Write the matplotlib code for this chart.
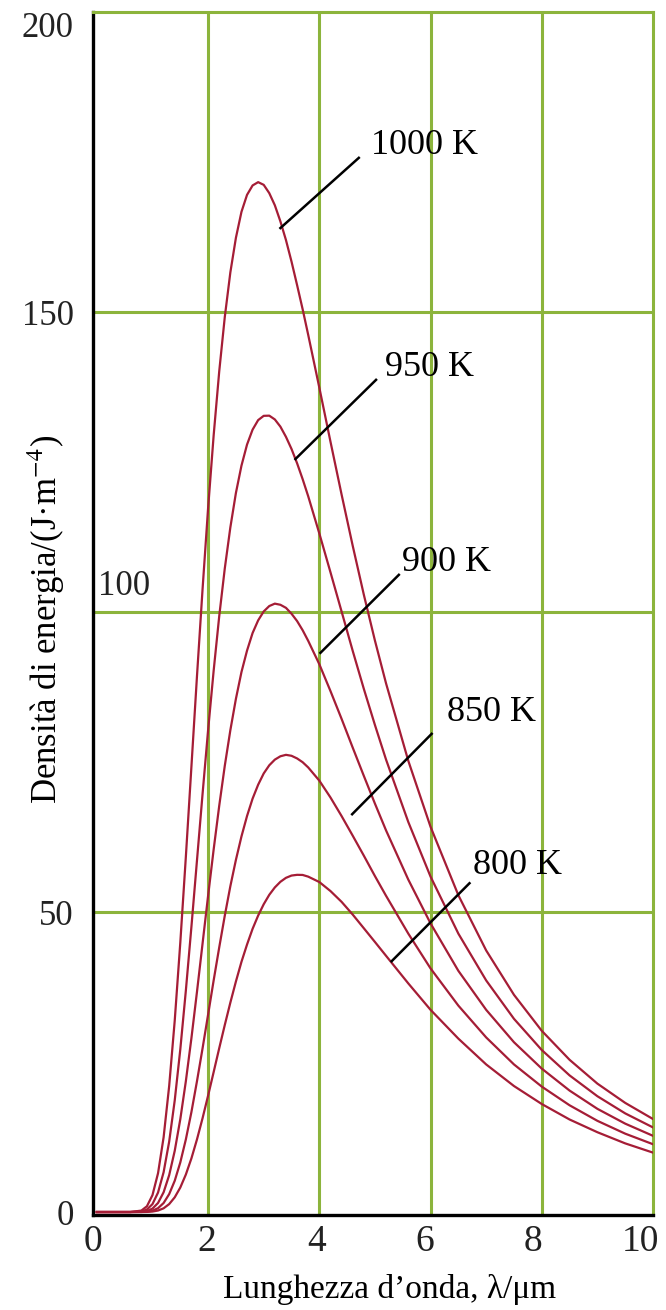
import matplotlib
matplotlib.use('Agg')
import matplotlib.pyplot as plt

plt.rcParams['font.family'] = ['Liberation Serif', 'DejaVu Serif']
plt.rcParams['mathtext.fontset'] = 'stix'

# wavelength in micrometres
lam = [0.0, 0.6, 0.8, 0.9, 1.0, 1.1, 1.2, 1.3, 1.4, 1.5, 1.6, 1.7, 1.8, 1.9,
       2.0, 2.1, 2.2, 2.3, 2.4, 2.5, 2.6, 2.7, 2.8, 2.9, 3.0, 3.1, 3.2, 3.3,
       3.4, 3.5, 3.6, 3.7, 3.8, 4.0, 4.2, 4.4, 4.6, 4.8, 5.0, 5.2, 5.6, 6.0,
       6.5, 7.0, 7.5, 8.0, 8.5, 9.0, 9.5, 10.0]

# energy density, J m^-4
u_1000 = [0.0, 0.0, 0.24, 0.96, 2.82, 6.47, 12.45, 20.99, 31.9, 44.88, 59.2,
          74.21, 89.3, 103.75, 117.3, 129.45, 140.1, 149.16, 156.6, 162.37,
          166.7, 169.53, 171.1, 171.65, 171.2, 169.82, 167.8, 165.11, 162.0,
          158.41, 154.5, 150.47, 146.2, 137.4, 128.42, 119.6, 111.06, 102.9,
          95.24, 88.1, 75.2, 64.2, 52.8, 43.6, 36.2, 30.2, 25.37, 21.4, 18.19,
          15.5]
u_950 = [0.0, 0.0, 0.09, 0.42, 1.32, 3.25, 6.63, 11.72, 18.6, 27.09, 36.9,
         47.53, 58.6, 69.63, 80.3, 90.23, 99.3, 107.26, 114.1, 119.84, 124.4,
         127.91, 130.4, 131.99, 132.7, 132.73, 132.1, 130.9, 129.2, 127.18,
         124.8, 122.15, 119.3, 113.1, 106.64, 100.1, 93.54, 87.2, 81.17, 75.4,
         65.0, 55.9, 46.4, 38.6, 32.2, 27.0, 22.77, 19.3, 16.44, 14.1]
u_900 = [0.0, 0.0, 0.03, 0.16, 0.57, 1.51, 3.29, 6.14, 10.2, 15.46, 21.8,
         28.97, 36.7, 44.71, 52.7, 60.43, 67.7, 74.37, 80.3, 85.53, 90.0,
         93.57, 96.5, 98.61, 100.1, 101.0, 101.4, 101.21, 100.7, 99.72, 98.5,
         96.97, 95.2, 91.3, 86.84, 82.2, 77.41, 72.7, 68.07, 63.6, 55.4, 48.1,
         40.2, 33.7, 28.3, 23.9, 20.24, 17.2, 14.73, 12.7]
u_850 = [0.0, 0.0, 0.01, 0.06, 0.22, 0.64, 1.50, 2.98, 5.21, 8.26, 12.1,
         16.66, 21.8, 27.25, 32.9, 38.61, 44.1, 49.39, 54.3, 58.69, 62.6,
         66.0, 68.9, 71.22, 73.1, 74.46, 75.4, 75.96, 76.2, 76.04, 75.6,
         74.97, 74.1, 71.9, 69.1, 66.0, 62.73, 59.4, 55.99, 52.7, 46.4, 40.6,
         34.4, 29.1, 24.6, 20.9, 17.79, 15.2, 13.06, 11.3]
u_800 = [0.0, 0.0, 0.0, 0.02, 0.08, 0.25, 0.62, 1.32, 2.45, 4.08, 6.25,
         8.94, 12.1, 15.62, 19.4, 23.33, 27.3, 31.17, 34.9, 38.42, 41.7,
         44.58, 47.2, 49.41, 51.3, 52.87, 54.1, 55.04, 55.7, 56.08, 56.2,
         56.18, 55.9, 55.0, 53.5, 51.7, 49.58, 47.3, 45.01, 42.7, 38.1, 33.7,
         28.9, 24.6, 21.0, 18.0, 15.42, 13.3, 11.44, 9.9]

curves = [u_1000, u_950, u_900, u_850, u_800]
labels = ['1000 K', '950 K', '900 K', '850 K', '800 K']

# leader lines: (start x, start y, end x, end y) and label anchor
leaders = [(3.30, 164.0, 4.71, 175.7),
           (3.57, 125.5, 5.02, 138.7),
           (4.02, 93.2, 5.43, 106.2),
           (4.59, 66.3, 6.02, 79.7),
           (5.30, 41.8, 6.70, 54.8)]
label_pos = [(4.93, 177.8), (5.18, 140.7), (5.48, 108.3), (6.29, 83.2),
             (6.77, 57.8)]

xtick_labels = ['0', '2', '4', '6', '8', '10']
# in the original the x labels drift a little left of their gridlines
xtick_pos = [-0.07, 1.98, 3.95, 5.89, 7.84, 9.77]
yticks = [0, 50, 150, 200]

green = '#8cb43c'
red = '#a51d36'

fig = plt.figure(figsize=(6.66, 13.10), dpi=100)
ax = fig.add_axes([0.1396, 0.0725, 0.8409, 0.9183])

for y in [50, 100, 150]:
    ax.axhline(y, color=green, lw=2.2, zorder=1)
for x in [2, 4, 6, 8]:
    ax.axvline(x, color=green, lw=2.2, zorder=1)

for u in curves:
    ax.plot(lam, u, color=red, lw=1.6, zorder=3)

for (x0, y0, x1, y1), (tx, ty), lab in zip(leaders, label_pos, labels):
    ax.plot([x0, x1], [y0, y1], color='black', lw=1.8, zorder=4)
    ax.text(tx, ty, lab, fontsize=26, ha='left', va='center', zorder=5)

ax.set_xlim(0, 10)
ax.set_ylim(-0.5, 200)

ax.spines['left'].set_color('black')
ax.spines['bottom'].set_color('black')
ax.spines['left'].set_linewidth(2.4)
ax.spines['bottom'].set_linewidth(2.4)
ax.spines['top'].set_color(green)
ax.spines['right'].set_color(green)
ax.spines['top'].set_linewidth(2.2)
ax.spines['right'].set_linewidth(2.2)

ax.set_xticks(xtick_pos)
ax.set_xticklabels(xtick_labels, fontsize=27)
ax.set_yticks(yticks)
ax.set_yticklabels([str(t) for t in yticks], fontsize=25)
ax.tick_params(axis='both', length=0, colors='#222222')
ax.tick_params(axis='x', pad=7)
ax.tick_params(axis='y', pad=14)
ax.get_yticklabels()[-1].set_va('top')

# the 100 label sits inside the plot, just above its gridline
ax.text(0.02, 101.5, '100', fontsize=25, ha='left', va='bottom', color='#222222')

ax.set_xlabel('Lunghezza d\u2019onda, \u03bb/\u03bcm', fontsize=24)
ax.xaxis.set_label_coords(0.53, -0.049)
ax.set_ylabel('Densit\u00e0 di energia/(J\u00b7m$^{-4}$)', fontsize=25)
ax.yaxis.set_label_coords(-0.047, 0.495)

fig.savefig('out.png', dpi=100)
